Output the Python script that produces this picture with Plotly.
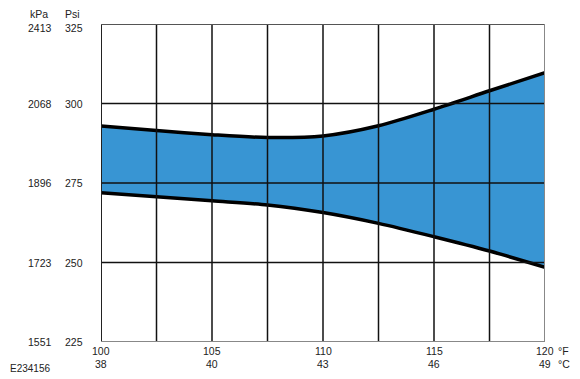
import plotly.graph_objects as go

temp_f = [100, 102.5, 105, 107.5, 110, 112.5, 115, 117.5, 120]
upper_psi = [292.9, 291.5, 290.2, 289.3, 289.8, 293.0, 298.2, 304.0, 309.7]
lower_psi = [271.9, 270.7, 269.4, 268.1, 265.7, 262.3, 258.1, 253.6, 248.5]

psi_ticks = [225, 250, 275, 300, 325]
kpa_labels = ["1551", "1723", "1896", "2068", "2413"]
f_ticks = [100, 105, 110, 115, 120]
c_labels = ["38", "40", "43", "46", "49"]
grid_x = [102.5, 105, 107.5, 110, 112.5, 115, 117.5]
grid_y = [250, 275, 300]

FONT = "Liberation Sans, Arial, sans-serif"
TXT = dict(size=10.5, color="#222", family=FONT)

fig = go.Figure()
fig.add_trace(go.Scatter(x=temp_f, y=lower_psi, mode="lines",
                         line=dict(color="black", width=3.5, shape="spline", smoothing=0.8),
                         hoverinfo="skip"))
fig.add_trace(go.Scatter(x=temp_f, y=upper_psi, mode="lines", fill="tonexty",
                         fillcolor="#3895d3",
                         line=dict(color="black", width=3.5, shape="spline", smoothing=0.8),
                         hoverinfo="skip"))

shapes = []
for gx in grid_x:
    shapes.append(dict(type="line", xref="x", yref="y", x0=gx, x1=gx, y0=225, y1=325,
                       line=dict(color="#111111", width=1.5), layer="above"))
for gy in grid_y:
    shapes.append(dict(type="line", xref="x", yref="y", x0=100, x1=120, y0=gy, y1=gy,
                       line=dict(color="#111111", width=1.5), layer="above"))
# frame
shapes.append(dict(type="line", xref="x", yref="y", x0=100, x1=100, y0=225, y1=325,
                   line=dict(color="#222222", width=2), layer="above"))
shapes.append(dict(type="line", xref="x", yref="y", x0=100, x1=120, y0=325, y1=325,
                   line=dict(color="#555555", width=2), layer="above"))
shapes.append(dict(type="line", xref="x", yref="y", x0=120, x1=120, y0=225, y1=325,
                   line=dict(color="#888888", width=2), layer="above"))
shapes.append(dict(type="line", xref="x", yref="y", x0=100, x1=120, y0=225, y1=225,
                   line=dict(color="#888888", width=2), layer="above"))

annotations = []
for p, k in zip(psi_ticks, kpa_labels):
    yshift = -4 if p == max(psi_ticks) else 0
    annotations.append(dict(xref="paper", yref="y", x=-0.105, y=p, text=k, showarrow=False,
                            xanchor="right", yanchor="middle", yshift=yshift, font=TXT))
    annotations.append(dict(xref="paper", yref="y", x=-0.035, y=p, text=str(p), showarrow=False,
                            xanchor="right", yanchor="middle", yshift=yshift, font=TXT))
for f, c in zip(f_ticks, c_labels):
    annotations.append(dict(xref="x", yref="paper", x=f, y=-0.029, text=str(f), showarrow=False,
                            xanchor="center", yanchor="middle", font=TXT))
    annotations.append(dict(xref="x", yref="paper", x=f, y=-0.068, text=c, showarrow=False,
                            xanchor="center", yanchor="middle", font=TXT))
annotations += [
    dict(xref="paper", yref="paper", x=1.025, y=-0.029, text="°F", showarrow=False,
         xanchor="left", yanchor="middle", font=TXT),
    dict(xref="paper", yref="paper", x=1.025, y=-0.068, text="°C", showarrow=False,
         xanchor="left", yanchor="middle", font=TXT),
    dict(xref="paper", yref="paper", x=-0.114, y=1.03, text="kPa", showarrow=False,
         xanchor="right", yanchor="middle", font=TXT),
    dict(xref="paper", yref="paper", x=-0.043, y=1.03, text="Psi", showarrow=False,
         xanchor="right", yanchor="middle", font=TXT),
    dict(xref="paper", yref="paper", x=-0.2095, y=-0.082, text="E234156", showarrow=False,
         xanchor="left", yanchor="middle", font=dict(size=10, color="#222", family=FONT)),
]

fig.update_layout(
    width=572, height=371,
    margin=dict(l=93, r=35, t=16, b=37),
    paper_bgcolor="white", plot_bgcolor="white",
    showlegend=False,
    shapes=shapes, annotations=annotations,
    xaxis=dict(range=[100, 120], showgrid=False, zeroline=False, showticklabels=False,
               ticks="", showline=False),
    yaxis=dict(range=[225, 325], showgrid=False, zeroline=False, showticklabels=False,
               ticks="", showline=False),
)

fig.write_html("out.html")
